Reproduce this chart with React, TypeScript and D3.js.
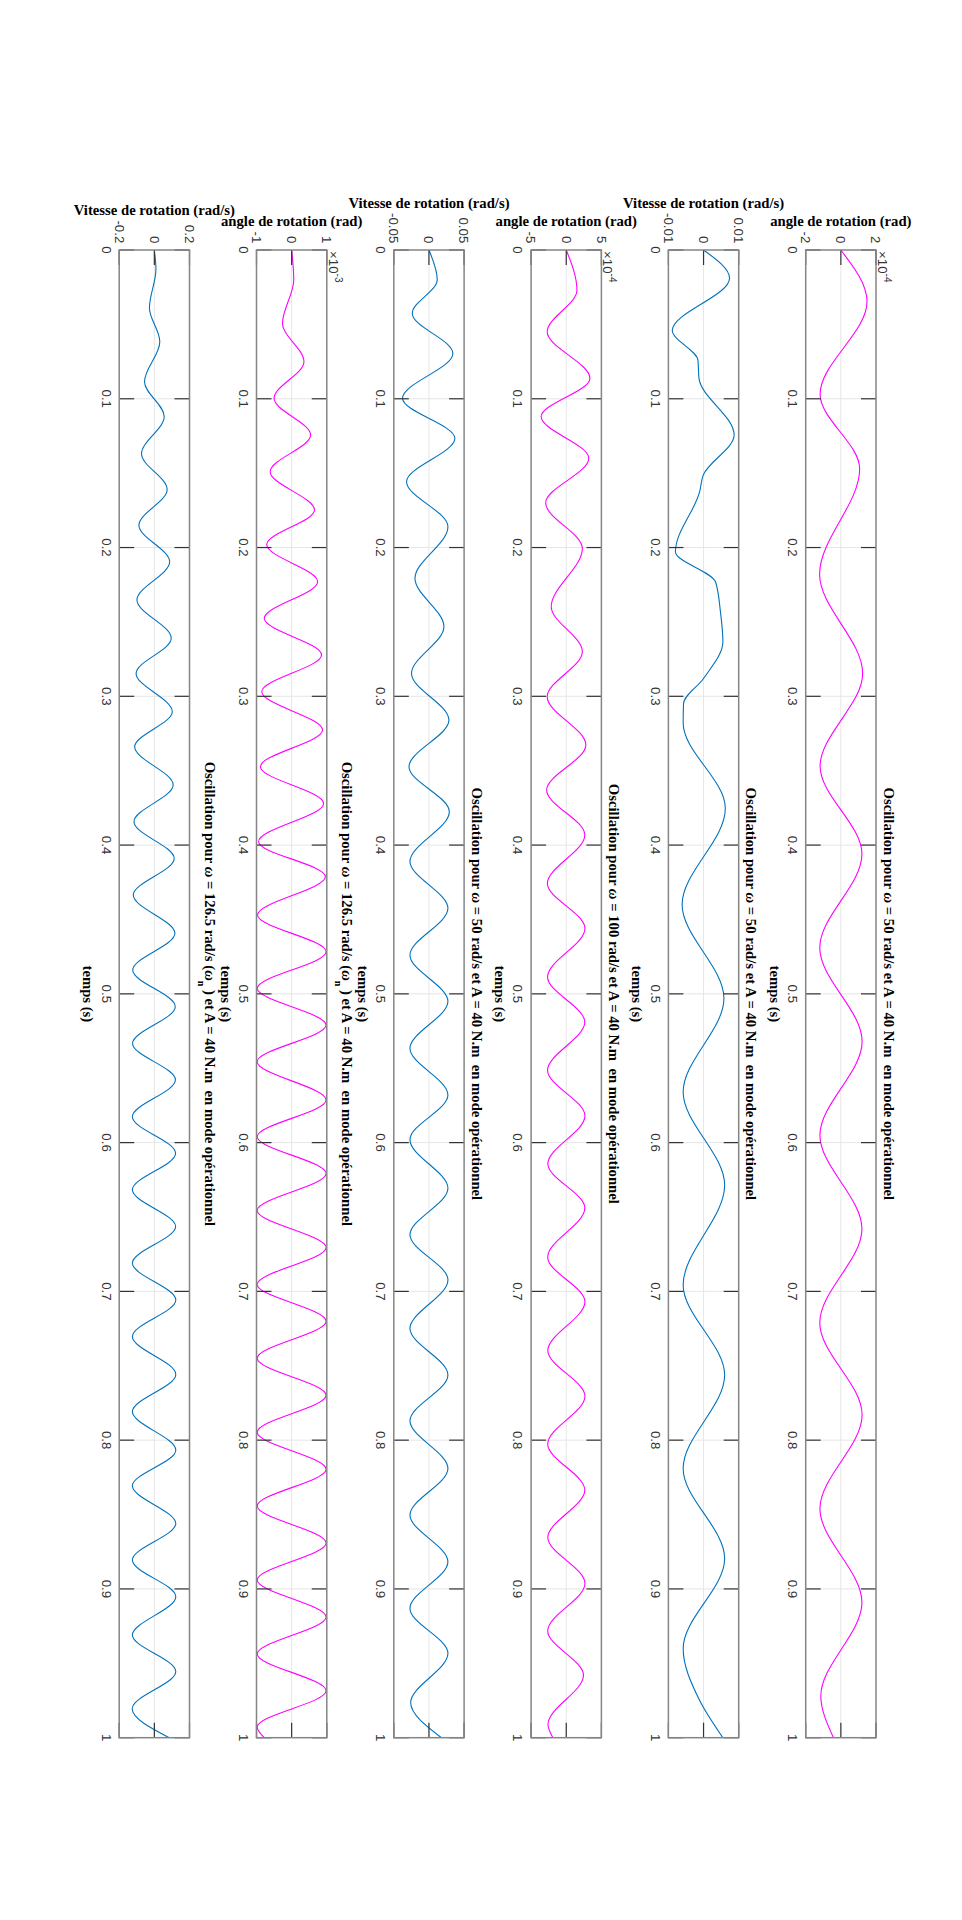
import * as d3 from "d3";

// figure is drawn landscape (1920 x 962) and then turned a quarter turn clockwise
const W = 962;
const H = 1920;

const timeTicks = [0, 0.1, 0.2, 0.3, 0.4, 0.5, 0.6, 0.7, 0.8, 0.9, 1];
const timeTickLabels = ["0", "0.1", "0.2", "0.3", "0.4", "0.5", "0.6", "0.7", "0.8", "0.9", "1"];

const titles = [
    "Oscillation pour ω = 50 rad/s et A = 40 N.m  en mode opérationnel",
    "Oscillation pour ω = 50 rad/s et A = 40 N.m  en mode opérationnel",
    "Oscillation pour ω = 100 rad/s et A = 40 N.m  en mode opérationnel",
    "Oscillation pour ω = 50 rad/s et A = 40 N.m  en mode opérationnel",
    "Oscillation pour ω = 126.5 rad/s (ω_n ) et A = 40 N.m  en mode opérationnel",
    "Oscillation pour ω = 126.5 rad/s (ω_n ) et A = 40 N.m  en mode opérationnel",
];
const yLabels = [
    "angle de rotation (rad)",
    "Vitesse de rotation (rad/s)",
    "angle de rotation (rad)",
    "Vitesse de rotation (rad/s)",
    "angle de rotation (rad)",
    "Vitesse de rotation (rad/s)",
];
const xLabel = "temps (s)";

const yLimits = [
    [-2e-4, 2e-4],
    [-0.01, 0.01],
    [-5e-4, 5e-4],
    [-0.05, 0.05],
    [-1e-3, 1e-3],
    [-0.2, 0.2],
];
const yTickLabels = [
    ["-2", "0", "2"],
    ["-0.01", "0", "0.01"],
    ["-5", "0", "5"],
    ["-0.05", "0", "0.05"],
    ["-1", "0", "1"],
    ["-0.2", "0", "0.2"],
];
const yExponents = ["-4", "", "-4", "", "-3", ""];
const lineColors = ["#FF00FF", "#0072BD", "#FF00FF", "#0072BD", "#FF00FF", "#0072BD"];

// [temps (s), valeur]
const angle50 = [
    [0, 0], [0.0347, 1.49e-4], [0.097, -1.18e-4], [0.147, 1.07e-4], [0.218, -1.21e-4],
    [0.2846, 1.24e-4], [0.347, -1.18e-4], [0.406, 1.2e-4], [0.469, -1.2e-4], [0.532, 1.21e-4],
    [0.595, -1.19e-4], [0.658, 1.2e-4], [0.721, -1.2e-4], [0.783, 1.21e-4], [0.846, -1.19e-4],
    [0.909, 1.2e-4], [0.972, -1.14e-4], [1.0, -0.42e-4],
];
const vitesse50 = [
    [0, 0], [0.019, 0.0074], [0.054, -0.0089], [0.074, -0.0016], [0.0863, -0.0013],
    [0.1244, 0.0087], [0.1513, -0.0001], [0.1624, -0.0011], [0.2028, -0.008], [0.223, 0.0034],
    [0.2431, 0.0048], [0.2633, 0.0055], [0.288, 0.0], [0.305, -0.0057], [0.318, -0.0058],
    [0.3753, 0.0062], [0.44, -0.0061], [0.503, 0.0058], [0.566, -0.0058], [0.6285, 0.006],
    [0.6957, -0.0058], [0.7562, 0.006], [0.819, -0.0058], [0.8795, 0.006], [0.94, -0.0058],
    [0.975, -0.0011], [1.0, 0.0055],
];
const angle100 = [
    [0, 0], [0.027, 1.52e-4], [0.055, -2.71e-4], [0.0863, 3.36e-4], [0.112, -3.57e-4],
    [0.14, 3.21e-4], [0.17, -2.93e-4], [0.2006, 2.29e-4], [0.2398, -2.14e-4], [0.27, 2.29e-4],
    [0.3003, -2.71e-4], [0.3327, 2.79e-4], [0.363, -2.79e-4], [0.3932, 2.64e-4], [0.4258, -2.68e-4],
    [0.456, 2.66e-4], [0.4886, -2.66e-4], [0.519, 2.64e-4], [0.5514, -2.66e-4], [0.582, 2.66e-4],
    [0.6142, -2.62e-4], [0.644, 2.64e-4], [0.677, -2.64e-4], [0.707, 2.66e-4], [0.7398, -2.62e-4],
    [0.7705, 2.66e-4], [0.8026, -2.64e-4], [0.8335, 2.64e-4], [0.8654, -2.62e-4], [0.8963, 2.66e-4],
    [0.9282, -2.64e-4], [0.958, 2.45e-4], [0.991, -2.6e-4], [1.0, -1.9e-4],
];
const vitesse100 = [
    [0, 0], [0.02, 0.0118], [0.0426, -0.0237], [0.0695, 0.034], [0.0997, -0.0376],
    [0.1266, 0.0369], [0.1557, -0.0319], [0.186, 0.027], [0.2207, -0.0199], [0.2532, 0.0213],
    [0.2846, -0.0248], [0.316, 0.0284], [0.3473, -0.0284], [0.3776, 0.029], [0.411, -0.027],
    [0.4425, 0.027], [0.474, -0.027], [0.505, 0.027], [0.5366, -0.027], [0.568, 0.027],
    [0.598, -0.027], [0.6307, 0.027], [0.662, -0.027], [0.6923, 0.027], [0.725, -0.027],
    [0.7562, 0.027], [0.787, -0.027], [0.819, 0.027], [0.8503, -0.027], [0.8817, 0.027],
    [0.9131, -0.027], [0.9433, 0.027], [0.9764, -0.026], [1.0, 0.0177],
];
const angle126 = [
    [0, 0], [0.02, 0.06e-3], [0.0493, -0.26e-3], [0.0751, 0.35e-3], [0.0997, -0.5e-3],
    [0.1244, 0.54e-3], [0.149, -0.61e-3], [0.1748, 0.65e-3], [0.198, -0.71e-3], [0.223, 0.74e-3],
    [0.2476, -0.78e-3], [0.2722, 0.85e-3], [0.2969, -0.85e-3], [0.3227, 0.88e-3], [0.3473, -0.89e-3],
    [0.372, 0.91e-3], [0.3977, -0.94e-3], [0.4212, 0.96e-3], [0.447, -0.97e-3], [0.4717, 0.98e-3],
    [0.4963, -0.98e-3], [0.521, 0.98e-3], [0.5456, -0.98e-3], [0.5714, 0.98e-3], [0.596, -0.98e-3],
    [0.6208, 0.98e-3], [0.6456, -0.98e-3], [0.6705, 0.98e-3], [0.6953, -0.98e-3], [0.7201, 0.98e-3],
    [0.745, -0.98e-3], [0.7698, 0.98e-3], [0.7946, -0.98e-3], [0.8195, 0.98e-3], [0.8443, -0.98e-3],
    [0.8691, 0.98e-3], [0.894, -0.98e-3], [0.9188, 0.98e-3], [0.9437, -0.98e-3], [0.9685, 0.98e-3],
    [0.9928, -0.98e-3], [1.0, -0.78e-3],
];
const vitesse126 = [
    [0, 0], [0.013, 0.009], [0.039, -0.028], [0.0616, 0.031], [0.0885, -0.056],
    [0.112, 0.056], [0.137, -0.073], [0.161, 0.073], [0.185, -0.088], [0.2095, 0.087],
    [0.2353, -0.099], [0.261, 0.096], [0.2846, -0.104], [0.3103, 0.102], [0.3339, -0.112],
    [0.3596, 0.107], [0.3843, -0.116], [0.409, 0.113], [0.4336, -0.12], [0.4593, 0.117],
    [0.484, -0.123], [0.5086, 0.119], [0.5333, -0.124], [0.5578, 0.12], [0.5826, -0.125],
    [0.6072, 0.121], [0.6317, -0.125], [0.6564, 0.121], [0.681, -0.125], [0.7058, 0.122],
    [0.7303, -0.125], [0.7558, 0.122], [0.7808, -0.125], [0.8067, 0.122], [0.8307, -0.125],
    [0.856, 0.122], [0.8806, -0.125], [0.9052, 0.122], [0.931, -0.125], [0.9555, 0.122],
    [0.9805, -0.126], [1.0, 0.085],
];
const series = [angle50, vitesse50, angle100, vitesse100, angle126, vitesse126];

const serif = "'Liberation Serif', 'Times New Roman', serif";
const sans = "'Liberation Sans', Arial, Helvetica, sans-serif";
const tickColor = "#333333";

// rough Arial widths, to push the ylabel left of the tick labels like matlab does
const labelWidth = (s: string, size: number) =>
    s.split("").reduce((w, c) => w + (c === "." ? 0.278 : c === "-" ? 0.333 : 0.556), 0) * size;

// title text with italic omega and the little "n" subscript
function TitleText({ text }: { text: string }) {
    const parts = text.split(/(ω|_n)/).filter((p) => p !== "");
    let lowered = false;
    return (
        <>
            {parts.map((p, k) => {
                if (p === "ω") {
                    const dy = lowered ? -7 : 0;
                    lowered = false;
                    return <tspan key={k} dy={dy} fontStyle="italic">ω</tspan>;
                }
                if (p === "_n") {
                    lowered = true;
                    return <tspan key={k} dy={7} fontSize={10}>n</tspan>;
                }
                const dy = lowered ? -7 : 0;
                lowered = false;
                return <tspan key={k} dy={dy}>{p}</tspan>;
            })}
        </>
    );
}

function Panel({ i }: { i: number }) {
    const left = 250;
    const right = 1737.7;
    const top = 86 + i * 137.3;
    const height = 70.3;
    const bottom = top + height;
    const tickLen = 15;

    const x = d3.scaleLinear().domain([0, 1]).range([left, right]);
    const y = d3.scaleLinear().domain(yLimits[i]).range([bottom, top]);
    const yTicks = [yLimits[i][0], 0, yLimits[i][1]];

    const line = d3.line<number[]>()
        .x((d) => x(d[0]))
        .y((d) => y(d[1]))
        .curve(d3.curveMonotoneX);

    const hasSub = titles[i].includes("_n");
    const maxTickW = d3.max(yTickLabels[i], (s) => labelWidth(s, 13.3)) as number;
    const ylabelX = left - 6.7 - maxTickW - 5;

    return (
        <g>
            {/* grid */}
            {timeTicks.slice(1, -1).map((t) => (
                <line key={"g" + t} x1={x(t)} x2={x(t)} y1={top} y2={bottom} stroke="#e6e6e6" strokeWidth={1} />
            ))}
            <line x1={left} x2={right} y1={y(0)} y2={y(0)} stroke="#e6e6e6" strokeWidth={1} />

            <path d={line(series[i]) || ""} fill="none" stroke={lineColors[i]} strokeWidth={1.1} />

            {/* ticks */}
            {timeTicks.map((t) => (
                <g key={"t" + t}>
                    <line x1={x(t)} x2={x(t)} y1={bottom} y2={bottom - tickLen} stroke={tickColor} strokeWidth={1.2} />
                    <line x1={x(t)} x2={x(t)} y1={top} y2={top + tickLen} stroke={tickColor} strokeWidth={1.2} />
                </g>
            ))}
            {yTicks.map((v) => (
                <g key={"y" + v}>
                    <line x1={left} x2={left + tickLen} y1={y(v)} y2={y(v)} stroke={tickColor} strokeWidth={1.2} />
                    <line x1={right} x2={right - tickLen} y1={y(v)} y2={y(v)} stroke={tickColor} strokeWidth={1.2} />
                </g>
            ))}
            <rect x={left} y={top} width={right - left} height={height} fill="none" stroke="#858585" strokeWidth={1.5} />

            {/* tick labels */}
            {timeTicks.map((t, k) => (
                <text key={"tl" + t} x={x(t)} y={bottom + 17.7} textAnchor="middle"
                    fontFamily={sans} fontSize={13.3} fill={tickColor}>
                    {timeTickLabels[k]}
                </text>
            ))}
            {yTicks.map((v, k) => (
                <text key={"yl" + v} x={left - 6.7} y={y(v) + 4.7} textAnchor="end"
                    fontFamily={sans} fontSize={13.3} fill={tickColor}>
                    {yTickLabels[i][k]}
                </text>
            ))}
            {yExponents[i] && (
                <text x={left + 1} y={top - 2} fontFamily={sans} fontSize={13.3} fill={tickColor}>
                    ×10<tspan dy={-6} fontSize={10}>{yExponents[i]}</tspan>
                </text>
            )}

            {/* labels */}
            <text x={(left + right) / 2} y={bottom + 36} textAnchor="middle"
                fontFamily={serif} fontWeight="bold" fontSize={14.7} fill="#000">
                {xLabel}
            </text>
            <text transform={`translate(${ylabelX},${(top + bottom) / 2}) rotate(-90)`} textAnchor="middle"
                fontFamily={serif} fontWeight="bold" fontSize={14.7} fill="#000">
                {yLabels[i]}
            </text>
            <text x={(left + right) / 2} y={top - (hasSub ? 15.3 : 7.5)} textAnchor="middle"
                fontFamily={serif} fontWeight="bold" fontSize={14.7} fill="#000"
                style={{ whiteSpace: "pre" }}>
                <TitleText text={titles[i]} />
            </text>
        </g>
    );
}

export default function App() {
    return (
        <svg width={W} height={H} style={{ position: "absolute", left: 0, top: 0, background: "#fff" }}>
            <rect width={W} height={H} fill="#fff" />
            <g transform={`translate(${W},0) rotate(90)`}>
                {series.map((_, i) => (
                    <Panel key={i} i={i} />
                ))}
            </g>
        </svg>
    );
}
